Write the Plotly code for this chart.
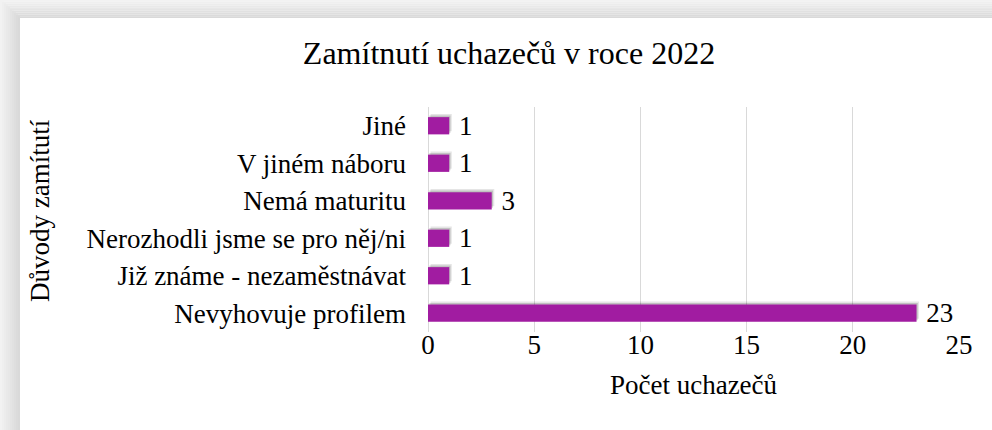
import plotly.graph_objects as go

categories = ["Jiné", "V jiném náboru", "Nemá maturitu",
              "Nerozhodli jsme se pro něj/ni", "Již známe - nezaměstnávat",
              "Nevyhovuje profilem"]
values = [1, 1, 3, 1, 1, 23]
x_ticks = [0, 5, 10, 15, 20, 25]

title_text = "Zamítnutí uchazečů v roce 2022"
x_title = "Počet uchazečů"
y_title = "Důvody zamítutí"

W, H = 992, 430
L, R, T, B = 428, 33, 107, 98
PW, PH = W - L - R, H - T - B

def px(xp):
    return (xp - L) / PW

def py(yp):
    return 1 - (yp - T) / PH

FONT = "Liberation Serif"
FS = 27
BAR = "#A11CA1"

fig = go.Figure()

# soft shadow under the bars
for shift, alpha in [(0.12, 0.10), (0.06, 0.16)]:
    fig.add_trace(go.Bar(
        y=categories, x=values, orientation="h", base=shift,
        width=0.46, offset=-0.23 - shift * 0.7,
        marker=dict(color=f"rgba(0,0,0,{alpha})", line=dict(width=0)),
        hoverinfo="skip", showlegend=False,
    ))

fig.add_trace(go.Bar(
    y=categories, x=values, orientation="h",
    width=0.46, offset=-0.23,
    marker=dict(color=BAR, line=dict(width=0)),
    text=values, texttemplate="\u00a0%{x}", textposition="outside",
    constraintext="none",
    textfont=dict(family=FONT, size=FS, color="black"),
    cliponaxis=False, showlegend=False,
))

# grey frame shadow at top and left
shapes = []
steps = 10
for i in range(steps):
    g = int(245 - (245 - 217) * (i + 1) / steps)
    col = f"rgb({g},{g},{g})"
    shapes.append(dict(type="rect", xref="paper", yref="paper",
                       x0=px(20 * i / steps), x1=px(W + 5),
                       y0=py(18 * i / steps), y1=py(18 * (i + 1) / steps),
                       fillcolor=col, line=dict(width=0), layer="below"))
    shapes.append(dict(type="rect", xref="paper", yref="paper",
                       x0=px(20 * i / steps), x1=px(20 * (i + 1) / steps),
                       y0=py(18 * i / steps), y1=py(H + 5),
                       fillcolor=col, line=dict(width=0), layer="below"))

fig.update_layout(
    width=W, height=H, autosize=False,
    margin=dict(l=L, r=R, t=T, b=B, autoexpand=False),
    paper_bgcolor="white", plot_bgcolor="white",
    barmode="overlay",
    font=dict(family=FONT, size=FS, color="black"),
    title=dict(text=title_text, x=509 / W, xanchor="center",
               y=1 - 53 / H, yanchor="middle", yref="container",
               font=dict(family=FONT, size=32, color="black")),
    xaxis=dict(range=[0, 25], tickvals=x_ticks, showgrid=True,
               automargin=False,
               gridcolor="#d9d9d9", gridwidth=1, zeroline=True,
               zerolinecolor="#d9d9d9", zerolinewidth=1, showline=False,
               ticks="", ticklabelstandoff=-6,
               tickfont=dict(family=FONT, size=FS, color="black"),
               title=dict(text=x_title, standoff=16,
                          font=dict(family=FONT, size=FS, color="black"))),
    yaxis=dict(type="category", autorange="reversed", showgrid=False,
               automargin=False,
               zeroline=False, showline=False, ticks="",
               ticklabelstandoff=21,
               tickfont=dict(family=FONT, size=FS, color="black")),
    shapes=shapes,
    annotations=[dict(text=y_title, textangle=-90, xref="paper", yref="paper",
                      x=px(40), y=py(211), xanchor="center", yanchor="middle",
                      showarrow=False,
                      font=dict(family=FONT, size=FS, color="black"))],
)

fig.write_html("out.html", config={"displayModeBar": False},
               post_script="document.body.style.margin='0';")
